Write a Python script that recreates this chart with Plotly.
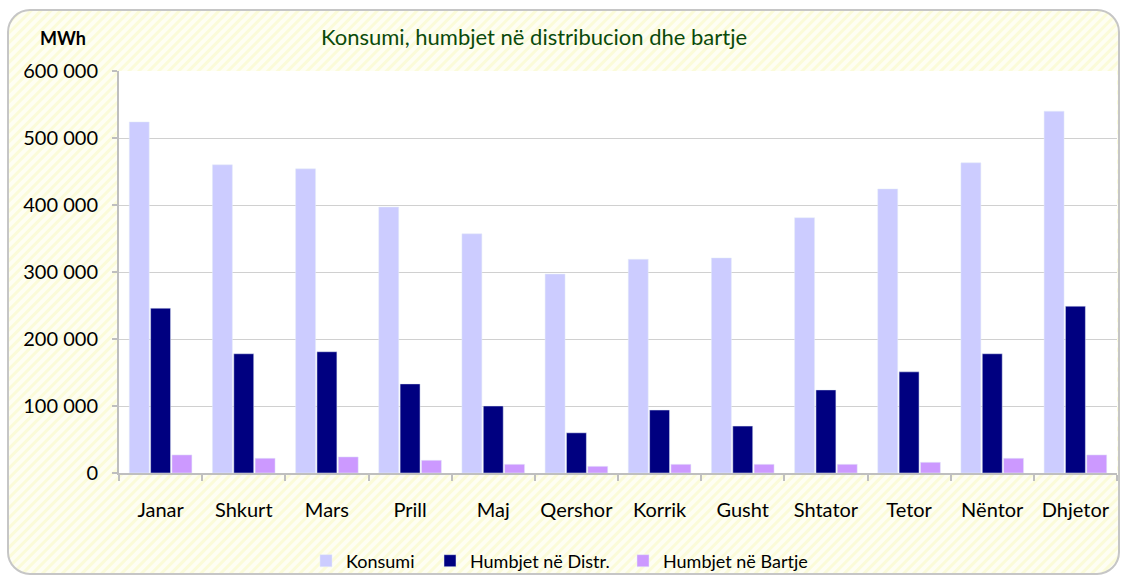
import base64
import plotly.graph_objects as go

months = ["Janar", "Shkurt", "Mars", "Prill", "Maj", "Qershor", "Korrik",
          "Gusht", "Shtator", "Tetor", "Nëntor", "Dhjetor"]
konsumi = [524000, 460000, 454000, 397000, 357000, 297000, 319000,
           321000, 381000, 424000, 463000, 540000]
humbjet_distr = [246000, 178000, 181000, 133000, 100000, 60000, 94000,
                 70000, 124000, 151000, 178000, 249000]
humbjet_bartje = [27000, 22000, 24000, 19000, 13000, 10000, 13000,
                  13000, 13000, 16000, 22000, 27000]

W, H = 1126, 575
L, R, T, B = 119, 9, 71, 102
pw, ph = W - L - R, H - T - B

FONT = "Lato"

svg = f'''<svg xmlns="http://www.w3.org/2000/svg" width="{W}" height="{H}" viewBox="0 0 {W} {H}">
<defs>
<pattern id="p" width="7" height="7" patternUnits="userSpaceOnUse" patternTransform="rotate(45)">
<rect width="7" height="7" fill="#fefef3"/>
<rect width="3" height="7" fill="#fbfbd9"/>
</pattern>
</defs>
<rect x="8" y="10" width="{W-15}" height="{H-11}" rx="22" ry="22" fill="url(#p)" stroke="#c6c6c6" stroke-width="2"/>
</svg>'''
src = "data:image/svg+xml;base64," + base64.b64encode(svg.encode()).decode()

fig = go.Figure()
fig.add_trace(go.Bar(name="Konsumi", x=months, y=konsumi, marker_color="#ccccff",
                     legend="legend"))
fig.add_trace(go.Bar(name="Humbjet në Distr.", x=months, y=humbjet_distr, marker_color="#000080",
                     legend="legend2"))
fig.add_trace(go.Bar(name="Humbjet në Bartje", x=months, y=humbjet_bartje, marker_color="#cc99ff",
                     legend="legend3"))

leg_y = (H - 561) / H
def leg(text_x):
    return dict(orientation="h", xref="container", yref="container",
                x=(text_x - 36) / W, xanchor="left", y=leg_y, yanchor="middle",
                font=dict(family=FONT, size=18, color="black"),
                bgcolor="rgba(0,0,0,0)", borderwidth=0)

fig.update_layout(
    width=W, height=H,
    margin=dict(l=L, r=R, t=T, b=B, pad=0, autoexpand=False),
    barmode="group", bargap=0.23, bargroupgap=0.065,
    paper_bgcolor="white", plot_bgcolor="white",
    separators=". ",
    font=dict(family=FONT, size=20, color="black"),
    showlegend=True,
    legend=leg(342), legend2=leg(466), legend3=leg(659),
    images=[dict(source=src, xref="paper", yref="paper",
                 x=-L / pw, y=1 + T / ph, sizex=W / pw, sizey=H / ph,
                 xanchor="left", yanchor="top", sizing="stretch", layer="below")],
    shapes=[dict(type="rect", xref="paper", yref="paper", x0=0, x1=1, y0=0, y1=1,
                 fillcolor="white", line=dict(width=0), layer="below")],
    annotations=[
        dict(text="Konsumi, humbjet në distribucion dhe bartje", xref="paper", yref="paper",
             x=(534 - L) / pw, y=1 + (T - 36) / ph, xanchor="center", yanchor="middle",
             showarrow=False, font=dict(family=FONT, size=22, color="#0b4a0b")),
        dict(text="<b>MWh</b>", xref="paper", yref="paper",
             x=(63 - L) / pw, y=1 + (T - 38) / ph, xanchor="center", yanchor="middle",
             showarrow=False, font=dict(family=FONT, size=18, color="black")),
    ],
)

fig.update_xaxes(
    automargin=False,
    showline=True, linecolor="#bfbfbf", linewidth=2,
    ticks="outside", ticklen=6, tickcolor="#bfbfbf", tickwidth=2,
    tickson="boundaries", showgrid=False,
    tickfont=dict(family=FONT, size=20, color="black"),
    ticklabelstandoff=18,
)
fig.update_yaxes(
    automargin=False,
    range=[0, 600000], dtick=100000, tickformat=",d",
    showline=True, linecolor="#bfbfbf", linewidth=2,
    ticks="outside", ticklen=5, tickcolor="#bfbfbf", tickwidth=2,
    showgrid=True, gridcolor="#d0d0d0", gridwidth=1,
    zeroline=False,
    tickfont=dict(family=FONT, size=20, color="black"),
    ticklabelstandoff=10,
)

fig.write_html("out.html", config={"displayModeBar": False},
               post_script="document.body.style.margin='0';document.body.style.overflow='hidden';")
